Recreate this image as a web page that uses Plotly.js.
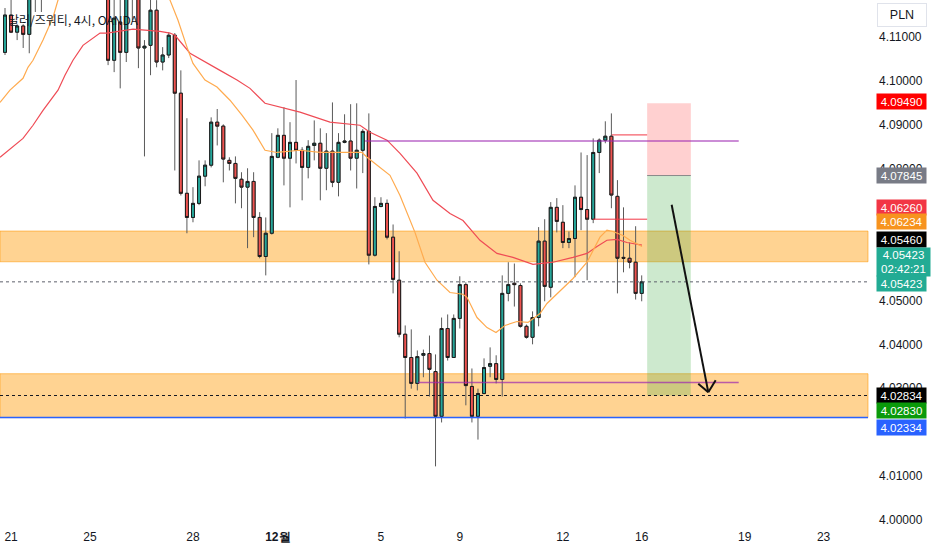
<!DOCTYPE html>
<html>
<head>
<meta charset="utf-8">
<script src="https://cdn.plot.ly/plotly-3.0.1.min.js"></script>
<style>html,body{margin:0;padding:0;background:#fff;}#chart{width:932px;height:550px;}</style>
</head>
<body>
<div id="chart"></div>
<script>
// ---- data (USD/PLN 4H) ----
const candleOpen = [4.1065,4.1150,4.1111,4.1125,4.1106,4.1200,4.1240,4.1215,4.1250,4.1275,
4.1258,4.1290,4.1270,4.1300,4.1280,4.1255,4.1235,4.1207,4.1047,4.1134,
4.1065,4.1241,4.1191,4.1075,4.1081,4.1161,4.1043,4.1059,4.1104,4.0972,
4.0744,4.0689,4.0721,4.0783,4.0808,4.0906,4.0897,4.0819,4.0812,4.0776,
4.0758,4.0771,4.0689,4.0600,4.0653,4.0826,4.0876,4.0824,4.0860,4.0842,
4.0803,4.0853,4.0858,4.0801,4.0840,4.0769,4.0860,4.0863,4.0824,4.0842,
4.0885,4.0603,4.0714,4.0721,4.0644,4.0546,4.0423,4.0370,4.0311,4.0375,
4.0379,4.0338,4.0236,4.0436,4.0370,4.0459,4.0536,4.0304,4.0236,4.0288,
4.0350,4.0356,4.0320,4.0516,4.0539,4.0534,4.0441,4.0416,4.0461,4.0635,
4.0530,4.0712,4.0678,4.0632,4.0641,4.0735,4.0707,4.0685,4.0837,4.0865,
4.0874,4.0737,4.0598,4.0596,4.0587,4.0516];
const candleHigh = [4.1166,4.1195,4.1129,4.1129,4.1230,4.1255,4.1262,4.1262,4.1290,4.1292,
4.1305,4.1310,4.1318,4.1312,4.1290,4.1270,4.1250,4.1241,4.1202,4.1191,
4.1218,4.1264,4.1207,4.1093,4.1195,4.1184,4.1077,4.1111,4.1109,4.1024,
4.0915,4.0758,4.0819,4.0819,4.0917,4.0936,4.0901,4.0826,4.0828,4.0792,
4.0801,4.0792,4.0701,4.0689,4.0881,4.0892,4.0940,4.0906,4.1002,4.0849,
4.0865,4.0910,4.0892,4.0881,4.0951,4.0881,4.0924,4.0947,4.0949,4.0890,
4.0926,4.0735,4.0735,4.0730,4.0673,4.0612,4.0443,4.0434,4.0386,4.0388,
4.0420,4.0377,4.0461,4.0468,4.0468,4.0555,4.0541,4.0345,4.0299,4.0368,
4.0393,4.0375,4.0557,4.0587,4.0584,4.0539,4.0445,4.0475,4.0667,4.0685,
4.0724,4.0733,4.0717,4.0657,4.0762,4.0837,4.0831,4.0869,4.0869,4.0908,
4.0926,4.0774,4.0712,4.0632,4.0669,4.0557];
const candleLow = [4.1059,4.1109,4.1093,4.1075,4.1063,4.1157,4.1157,4.1205,4.1238,4.1245,
4.1250,4.1262,4.1262,4.1266,4.1240,4.1222,4.1200,4.1036,4.1020,4.0983,
4.1043,4.1138,4.1029,4.0828,4.1013,4.1031,4.1024,4.1052,4.0796,4.0739,
4.0653,4.0678,4.0717,4.0760,4.0803,4.0853,4.0769,4.0796,4.0721,4.0710,
4.0619,4.0644,4.0596,4.0557,4.0650,4.0824,4.0762,4.0712,4.0812,4.0728,
4.0778,4.0819,4.0728,4.0751,4.0758,4.0737,4.0858,4.0796,4.0755,4.0790,
4.0582,4.0600,4.0712,4.0639,4.0516,4.0416,4.0231,4.0299,4.0295,4.0325,
4.0281,4.0122,4.0222,4.0363,4.0370,4.0436,4.0261,4.0222,4.0183,4.0286,
4.0325,4.0311,4.0281,4.0498,4.0486,4.0438,4.0413,4.0400,4.0441,4.0498,
4.0507,4.0655,4.0619,4.0619,4.0553,4.0660,4.0546,4.0676,4.0790,4.0858,
4.0710,4.0516,4.0564,4.0573,4.0502,4.0498];
const candleClose = [4.1150,4.1111,4.1125,4.1106,4.1207,4.1240,4.1215,4.1250,4.1275,4.1258,
4.1290,4.1270,4.1300,4.1280,4.1255,4.1235,4.1215,4.1047,4.1143,4.1065,
4.1198,4.1195,4.1075,4.1079,4.1161,4.1043,4.1059,4.1104,4.0972,4.0744,
4.0689,4.0721,4.0783,4.0808,4.0906,4.0897,4.0822,4.0812,4.0778,4.0758,
4.0771,4.0689,4.0600,4.0653,4.0828,4.0876,4.0824,4.0860,4.0842,4.0803,
4.0851,4.0858,4.0801,4.0840,4.0769,4.0860,4.0863,4.0824,4.0842,4.0885,
4.0603,4.0714,4.0721,4.0644,4.0548,4.0423,4.0370,4.0311,4.0372,4.0379,
4.0343,4.0236,4.0436,4.0370,4.0459,4.0536,4.0306,4.0236,4.0288,4.0347,
4.0356,4.0320,4.0516,4.0536,4.0536,4.0441,4.0416,4.0461,4.0635,4.0532,
4.0712,4.0680,4.0632,4.0641,4.0735,4.0707,4.0685,4.0837,4.0865,4.0874,
4.0740,4.0596,4.0596,4.0587,4.0516,4.05423];

// moving averages (bar index, price)
const emaFastBar = [-0.82,0.82,2.97,3.79,4.62,6.27,7.92,8.74,11.54,15.67,20.61,24.74,27.21,28.53,30.01,31.0,32.98,34.96,37.1,39.08,40.9,42.88,44.85,48.65,51.95,55.74,58.87,59.7,61.84,63.49,65.14,67.61,69.26,71.24,73.38,75.53,76.19,77.84,79.49,80.97,82.45,84.43,86.25,88.23,89.38,91.52,93.67,95.98,96.97,98.12,99.27,100.26,101.91,103.07,105.05];
const emaFastVal = [4.0951,4.0979,4.1006,4.1031,4.1047,4.1093,4.1145,4.1184,4.1252,4.1287,4.1287,4.1248,4.1184,4.1138,4.1077,4.1040,4.1002,4.0986,4.0956,4.0922,4.0888,4.0842,4.0837,4.0842,4.0837,4.0837,4.0837,4.0826,4.0803,4.0785,4.0739,4.0655,4.0587,4.0546,4.0518,4.0514,4.0507,4.0461,4.0438,4.0427,4.0443,4.0452,4.0450,4.0470,4.0493,4.0521,4.0550,4.0587,4.0614,4.0644,4.0660,4.0657,4.0648,4.0637,4.0623];
const emaSlowBar = [-0.82,2.97,4.62,6.27,8.74,9.89,11.21,12.86,15.67,16.82,21.11,25.56,27.21,28.03,30.51,33.31,35.46,38.26,40.4,42.88,45.84,48.65,53.59,58.54,60.19,63.0,65.14,67.94,70.58,73.38,75.53,78.33,81.13,83.77,87.07,90.37,93.67,95.98,97.63,99.27,100.92,102.57,105.05];
const emaSlowVal = [4.0826,4.0869,4.0899,4.0933,4.0979,4.1013,4.1047,4.1081,4.1109,4.1109,4.1118,4.1113,4.1109,4.1104,4.1063,4.1040,4.1024,4.1002,4.0983,4.0949,4.0938,4.0929,4.0906,4.0899,4.0883,4.0865,4.0835,4.0790,4.0728,4.0698,4.0682,4.0637,4.0607,4.0598,4.0582,4.0587,4.0598,4.0607,4.0623,4.0637,4.0639,4.0632,4.0626];

const dayTickBars = [1,14,31,45,62,75,92,105,122,135];
const dayTickText = ['21','25','28','<b>12월</b>','5','9','12','16','19','23'];
// price ticks that are not hidden behind the price tags
const priceTicks = [4.00,4.01,4.03,4.04,4.05,4.08,4.09,4.10,4.11];

const zoneUpper = [4.0588, 4.0658];
const zoneLower = [4.0233, 4.0333];
const levelPurpleHigh = 4.0863, levelPurpleLow = 4.0313;
const levelRedHigh = 4.0877, levelRedLow = 4.0685;
const levelBlue = 4.02334, levelLast = 4.05423, levelTargetDot = 4.02834;
const tradeStop = 4.09490, tradeEntry = 4.07845, tradeTarget = 4.02834;

const tagTexts = ['4.09490','4.07845','4.06260','4.06234','4.05460','4.05423<br>02:42:21','4.05423','4.02834','4.02830','4.02334'];
const titleText = '달러/즈워티, 4시, OANDA';
const currencyText = 'PLN';

// ---- build ----
const bars = candleOpen.map((_, i) => i);
const bodyHigh = candleOpen.map((o, i) => Math.max(o, candleClose[i]));
const bodyLow = candleOpen.map((o, i) => Math.min(o, candleClose[i]));
const UP = '#26a69a', DOWN = '#ef5350';

const traces = [
  {type:'scatter', mode:'lines', x:emaSlowBar, y:emaSlowVal, line:{color:'#ef4b55', width:1.2}, hoverinfo:'skip'},
  {type:'scatter', mode:'lines', x:emaFastBar, y:emaFastVal, line:{color:'#ffab4f', width:1.2}, hoverinfo:'skip'},
  {type:'candlestick', x:bars, open:candleOpen, high:candleHigh, low:candleLow, close:candleClose,
   increasing:{line:{color:'#5a5a5a', width:1}, fillcolor:'rgba(0,0,0,0)'},
   decreasing:{line:{color:'#5a5a5a', width:1}, fillcolor:'rgba(0,0,0,0)'}, hoverinfo:'skip'},
  {type:'candlestick', x:bars, open:candleOpen, high:bodyHigh, low:bodyLow, close:candleClose,
   increasing:{line:{color:'#1b1b1b', width:1}, fillcolor:UP},
   decreasing:{line:{color:'#1b1b1b', width:1}, fillcolor:DOWN}, hoverinfo:'skip'}
];

const H = 528; // plot height in px
const pY = py => 1 - py / H;

function hline(y, color, width, dash, x0, x1, xref) {
  return {type:'line', xref:xref || 'x', yref:'y', x0:x0, x1:x1, y0:y, y1:y,
          line:{color:color, width:width, dash:dash || 'solid'}, layer:'above'};
}

const shapes = [
  {type:'rect', xref:'paper', yref:'y', x0:0, x1:1, y0:zoneUpper[0], y1:zoneUpper[1],
   fillcolor:'rgba(255,167,38,0.5)', line:{color:'rgba(255,152,0,0.55)', width:1}, layer:'below'},
  {type:'rect', xref:'paper', yref:'y', x0:0, x1:1, y0:zoneLower[0], y1:zoneLower[1],
   fillcolor:'rgba(255,167,38,0.5)', line:{color:'rgba(255,152,0,0.55)', width:1}, layer:'below'},
  {type:'rect', xref:'x', yref:'y', x0:105.9, x1:113.1, y0:tradeEntry, y1:tradeStop,
   fillcolor:'rgba(255,82,82,0.27)', line:{width:0}, layer:'below'},
  {type:'rect', xref:'x', yref:'y', x0:105.9, x1:113.1, y0:tradeTarget, y1:tradeEntry,
   fillcolor:'rgba(76,175,80,0.28)', line:{width:0}, layer:'below'},
  hline(tradeEntry, '#8a8a8a', 1, 'solid', 105.9, 113.1),
  hline(levelPurpleHigh, 'rgba(156,39,176,0.7)', 1.5, 'solid', 59.4, 121.0),
  hline(levelPurpleLow, 'rgba(156,39,176,0.7)', 1.5, 'solid', 68.1, 121.0),
  hline(levelRedHigh, '#f23645', 1, 'solid', 100.05, 105.9),
  hline(levelRedLow, '#f23645', 1, 'solid', 97, 105.9),
  hline(levelLast, '#5d606b', 1, 'dot', 0, 1, 'paper'),
  hline(levelTargetDot, '#131722', 1, 'dot', 0, 1, 'paper'),
  hline(levelBlue, '#2962ff', 1.6, 'solid', 0, 1, 'paper'),
  // arrow
  {type:'line', xref:'x', yref:'y', x0:109.94, y0:4.0718, x1:115.98, y1:4.0291, line:{color:'#111', width:2}},
  {type:'line', xref:'x', yref:'y', x0:114.33, y0:4.0310, x1:115.98, y1:4.0291, line:{color:'#111', width:2}},
  {type:'line', xref:'x', yref:'y', x0:117.2, y0:4.0318, x1:115.98, y1:4.0291, line:{color:'#111', width:2}}
];

const tagCenters = [102,175,207,222,239,262,283,395,410,427];
const tagColors = ['#ff0000','#787b86','#f23645','#f7931e','#000000','#22ab94','#22ab94','#000000','#0a9a0a','#2962ff'];
const annotations = tagTexts.map((t, i) => ({
  xref:'paper', yref:'paper', x:1, y:pY(tagCenters[i]), xanchor:'left', yanchor:'middle', xshift:8,
  text:t, showarrow:false, bgcolor:tagColors[i], borderpad:1.5,
  width: i === 5 ? 50 : 46, height: i === 5 ? 25 : 12,
  font:{family:'Liberation Sans, Arial, sans-serif', size:11.5, color:'#ffffff'}
}));
annotations.push({xref:'paper', yref:'paper', x:1, y:pY(15.5), xanchor:'left', yanchor:'middle', xshift:9,
  text:currencyText, showarrow:false, bgcolor:'#ffffff', bordercolor:'#e0e3eb', borderwidth:1, borderpad:2,
  width:44, height:18, font:{family:'Liberation Sans, Arial, sans-serif', size:12.5, color:'#131722'}});
annotations.push({xref:'paper', yref:'paper', x:0, y:pY(19), xanchor:'left', yanchor:'middle', xshift:6,
  text:titleText, showarrow:false,
  font:{family:'Noto Sans CJK KR, sans-serif', size:12, color:'#131722'}});

const layout = {
  width:932, height:550,
  margin:{l:0, r:64, t:0, b:22, pad:0},
  paper_bgcolor:'#ffffff', plot_bgcolor:'#ffffff',
  showlegend:false,
  font:{family:'Liberation Sans, Arial, sans-serif', size:12, color:'#131722'},
  xaxis:{type:'linear', range:[-0.825, 142.32], rangeslider:{visible:false}, showgrid:false, zeroline:false,
         showline:false, ticks:'', tickvals:dayTickBars, ticktext:dayTickText, tickfont:{size:12, color:'#131722'},
         fixedrange:true},
  yaxis:{side:'right', range:[3.99816, 4.11843], showgrid:false, zeroline:false, showline:false, ticks:'',
         tickvals:priceTicks, tickformat:'.5f', ticklabelstandoff:10, tickfont:{size:12, color:'#131722'},
         fixedrange:true},
  shapes:shapes,
  annotations:annotations,
  hovermode:false
};

Plotly.newPlot('chart', traces, layout, {displayModeBar:false, staticPlot:true});
</script>
</body>
</html>
